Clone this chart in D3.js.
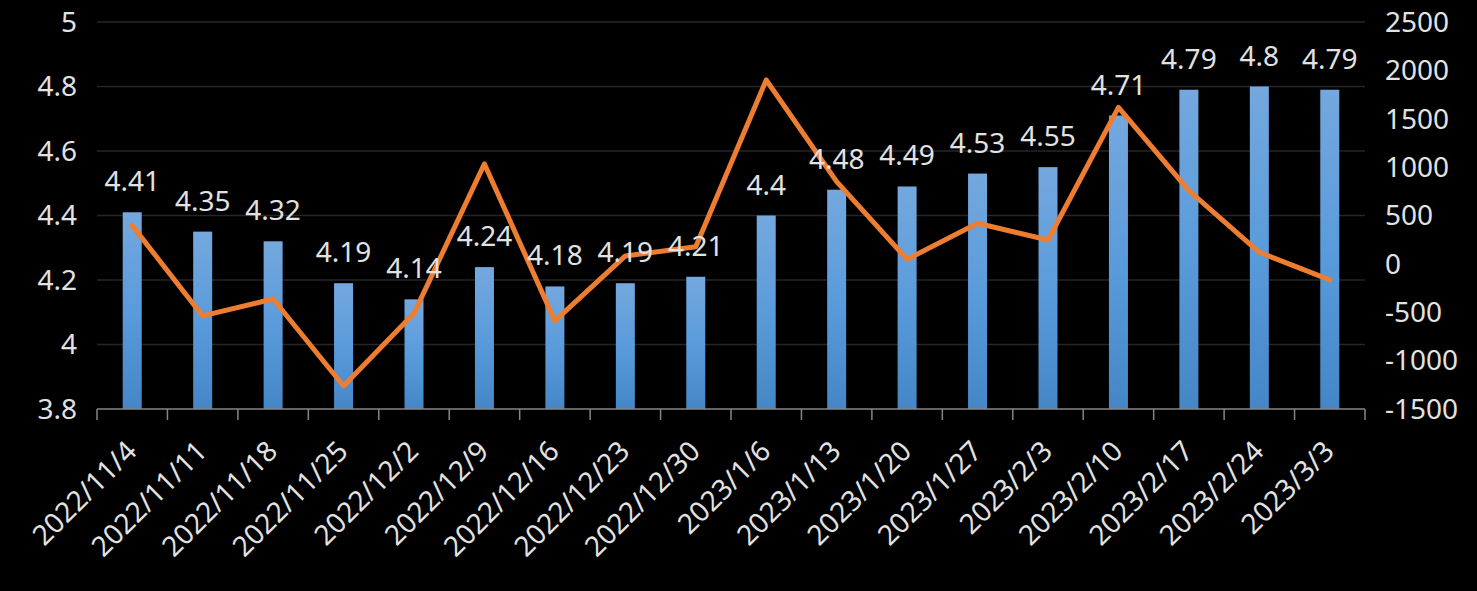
<!DOCTYPE html>
<html>
<head>
<meta charset="utf-8">
<script src="https://cdn.jsdelivr.net/npm/d3@7"></script>
<style>
  html, body { margin: 0; padding: 0; background: #000; }
  svg { display: block; }
  text { font-family: "Noto Sans", "Open Sans", sans-serif; }
</style>
</head>
<body>
<svg id="chart" width="1477" height="591"></svg>
<script>
const categories = ["2022/11/4","2022/11/11","2022/11/18","2022/11/25","2022/12/2","2022/12/9","2022/12/16","2022/12/23","2022/12/30","2023/1/6","2023/1/13","2023/1/20","2023/1/27","2023/2/3","2023/2/10","2023/2/17","2023/2/24","2023/3/3"];
const barValues = [4.41,4.35,4.32,4.19,4.14,4.24,4.18,4.19,4.21,4.4,4.48,4.49,4.53,4.55,4.71,4.79,4.8,4.79];
const lineValues = [395,-538,-363,-1262,-511,1033,-590,82,178,1901,850,47,420,247,1618,757,120,-166];
const leftTicks = [3.8,4,4.2,4.4,4.6,4.8,5];
const rightTicks = [-1500,-1000,-500,0,500,1000,1500,2000,2500];

const W = 1477, H = 591;
const m = {left: 97, right: 1365, top: 22, bottom: 409};
const svg = d3.select("#chart");
svg.append("rect").attr("width", W).attr("height", H).attr("fill", "#000");

const x = d3.scaleBand().domain(categories).range([m.left, m.right]).paddingInner(0).paddingOuter(0);
const yL = d3.scaleLinear().domain([3.8, 5]).range([m.bottom, m.top]);
const yR = d3.scaleLinear().domain([-1500, 2500]).range([m.bottom, m.top]);

const defs = svg.append("defs");
const grad = defs.append("linearGradient").attr("id", "barGrad").attr("x1", 0).attr("y1", 0).attr("x2", 0).attr("y2", 1);
grad.append("stop").attr("offset", "0%").attr("stop-color", "#74a8de");
grad.append("stop").attr("offset", "50%").attr("stop-color", "#5a9bdb");
grad.append("stop").attr("offset", "100%").attr("stop-color", "#4586c6");

// gridlines
svg.append("g").selectAll("line").data(leftTicks.slice(1)).join("line")
  .attr("x1", m.left).attr("x2", m.right)
  .attr("y1", d => yL(d)).attr("y2", d => yL(d))
  .attr("stroke", "#262626").attr("stroke-width", 1.5);

// left axis labels
svg.append("g").selectAll("text").data(leftTicks).join("text")
  .attr("x", 77).attr("y", d => yL(d)).attr("dy", "0.35em")
  .attr("text-anchor", "end").attr("fill", "#e2e2e2").attr("font-size", 28)
  .text(d => d3.format("")(d));

// right axis labels
svg.append("g").selectAll("text").data(rightTicks).join("text")
  .attr("x", 1385).attr("y", d => yR(d)).attr("dy", "0.35em")
  .attr("text-anchor", "start").attr("fill", "#e2e2e2").attr("font-size", 28)
  .text(d => String(d));

// bars
const bw = 19;
svg.append("g").selectAll("rect").data(barValues).join("rect")
  .attr("x", (d, i) => x(categories[i]) + x.bandwidth() / 2 - bw / 2)
  .attr("width", bw)
  .attr("y", d => yL(d))
  .attr("height", d => yL(3.8) - yL(d))
  .attr("fill", "url(#barGrad)");

// x axis
const xAxisG = svg.append("g");
xAxisG.append("line").attr("x1", m.left).attr("x2", m.right).attr("y1", m.bottom).attr("y2", m.bottom)
  .attr("stroke", "#868686").attr("stroke-width", 1.5);
const boundaries = categories.map(c => x(c)).concat([m.right]);
xAxisG.selectAll("line.tick").data(boundaries).join("line").attr("class", "tick")
  .attr("x1", d => d).attr("x2", d => d).attr("y1", m.bottom).attr("y2", m.bottom + 11)
  .attr("stroke", "#868686").attr("stroke-width", 1.5);

xAxisG.selectAll("text").data(categories).join("text")
  .attr("transform", d => `translate(${x(d) + x.bandwidth() / 2 + 6},${m.bottom + 44}) rotate(-45)`)
  .attr("text-anchor", "end").attr("fill", "#e2e2e2").attr("font-size", 28)
  .text(d => d);

// line
const line = d3.line()
  .x((d, i) => x(categories[i]) + x.bandwidth() / 2)
  .y(d => yR(d));
svg.append("path").datum(lineValues)
  .attr("d", line).attr("fill", "none")
  .attr("stroke", "#ed7d31").attr("stroke-width", 5)
  .attr("stroke-linejoin", "round").attr("stroke-linecap", "round");

// data labels
svg.append("g").selectAll("text").data(barValues).join("text")
  .attr("x", (d, i) => x(categories[i]) + x.bandwidth() / 2)
  .attr("y", d => yL(d) - 21)
  .attr("text-anchor", "middle").attr("fill", "#e2e2e2").attr("font-size", 28)
  .text(d => String(d));
</script>
</body>
</html>
